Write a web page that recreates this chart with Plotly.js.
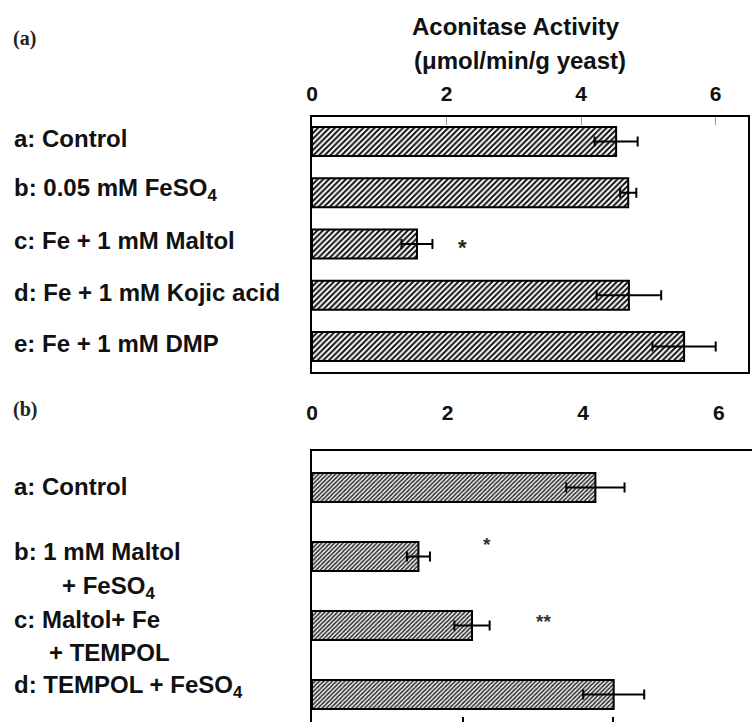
<!DOCTYPE html>
<html>
<head>
<meta charset="utf-8">
<script src="https://cdn.plot.ly/plotly-3.0.1.min.js"></script>
<style>html,body{margin:0;padding:0;background:#fff;}#chart{width:752px;height:722px;}</style>
</head>
<body>
<div id="chart"></div>
<script>
// ---- Panel (a) data ----
var catsA = ["a: Control", "b: 0.05 mM FeSO<sub>4</sub>", "c: Fe + 1 mM Maltol", "d: Fe + 1 mM Kojic acid", "e: Fe + 1 mM DMP"];
var valsA = [4.52, 4.70, 1.56, 4.71, 5.53];
var errA  = [0.32, 0.12, 0.23, 0.48, 0.47];
var starsA = ["", "", "*", "", ""];
var starXA = [null, null, 2.23, null, null];

// ---- Panel (b) data ----
var catsB = ["a: Control", "b: 1 mM Maltol<br>+ FeSO<sub>4</sub>", "c: Maltol+ Fe<br>+ TEMPOL", "d: TEMPOL + FeSO<sub>4</sub>"];
var valsB = [4.18, 1.57, 2.36, 4.45];
var errB  = [0.43, 0.17, 0.26, 0.45];
var starsB = ["", "*", "**", ""];
var starXB = [null, 2.58, 3.41, null];

var tickValsTop = [0, 2, 4, 6];
var tickTextTop = ["0", "2", "4", "6"];
var axisTitle1 = "Aconitase Activity";
var axisTitle2 = "(\u03bcmol/min/g yeast)";

var FONT = "Liberation Sans, Arial, sans-serif";
var SERIF = "Liberation Serif, Times New Roman, serif";
var L = 312, W = 752, H = 722, PW = W - L;
function px2paperX(p){ return (p - L) / PW; }
function px2paperY(p){ return (H - p) / H; }

var idxA = catsA.map(function(_, i){ return i; });
var idxB = catsB.map(function(_, i){ return i; });

var traces = [
  {
    type: 'bar', orientation: 'h', x: valsA, y: idxA, xaxis: 'x', yaxis: 'y',
    width: 0.566,
    marker: {color: '#ffffff', line: {color: '#000', width: 2},
             pattern: {shape: '/', fgcolor: '#111', bgcolor: '#fff', size: 4, solidity: 0.5}},
    error_x: {type: 'data', array: errA, visible: true, color: '#000', thickness: 2, width: 5},
    hoverinfo: 'skip', showlegend: false
  },
  {
    type: 'bar', orientation: 'h', x: valsB, y: idxB, xaxis: 'x2', yaxis: 'y2',
    width: 0.42,
    marker: {color: '#ffffff', line: {color: '#000', width: 2},
             pattern: {shape: '/', fgcolor: '#333', bgcolor: '#fff', size: 3, solidity: 0.55}},
    error_x: {type: 'data', array: errB, visible: true, color: '#000', thickness: 2, width: 5},
    hoverinfo: 'skip', showlegend: false
  },
  { type: 'scatter', x: [], y: [], xaxis: 'x3', yaxis: 'y2', showlegend: false, hoverinfo: 'skip' }
];

var annotations = [];
// category labels panel (a)
catsA.forEach(function(t, i){
  annotations.push({xref: 'paper', yref: 'y', x: px2paperX(12), y: i, yshift: 3,
    xanchor: 'left', yanchor: 'middle', align: 'left', showarrow: false, text: t,
    font: {family: FONT, size: 24, color: '#111', weight: 'bold'}});
});
// category labels panel (b) (multi-line with indented continuation)
var indentsB = [0, 48, 35, 0];
var lineGapB = [0, 36, 33, 0];
var shiftB = [1, 5, 6, 8];
catsB.forEach(function(t, i){
  var lines = t.split('<br>');
  lines.forEach(function(line, j){
    annotations.push({xref: 'paper', yref: 'y2', x: px2paperX(12 + (j ? indentsB[i] : 0)), y: i,
      yshift: shiftB[i] - j * lineGapB[i],
      xanchor: 'left', yanchor: 'middle', align: 'left', showarrow: false, text: line,
      font: {family: FONT, size: 24, color: '#111', weight: 'bold'}});
  });
});
// significance stars
starsA.forEach(function(s, i){
  if (!s) return;
  annotations.push({xref: 'x', yref: 'y', x: starXA[i], y: i, yshift: -4, showarrow: false, text: s,
    xanchor: 'center', yanchor: 'middle', font: {family: FONT, size: 22, color: '#222', weight: 'bold'}});
});
starsB.forEach(function(s, i){
  if (!s) return;
  annotations.push({xref: 'x2', yref: 'y2', x: starXB[i], y: i, yshift: 4 + (i === 1 ? 8 : 0), showarrow: false, text: s,
    xanchor: 'center', yanchor: 'middle', font: {family: FONT, size: 19, color: '#333', weight: 'bold'}});
});
// panel letters and axis title
annotations.push({xref: 'paper', yref: 'paper', x: px2paperX(11), y: px2paperY(38), xanchor: 'left', yanchor: 'middle',
  showarrow: false, text: '(a)', font: {family: SERIF, size: 20, color: '#222', weight: 'bold'}});
annotations.push({xref: 'paper', yref: 'paper', x: px2paperX(11), y: px2paperY(409), xanchor: 'left', yanchor: 'middle',
  showarrow: false, text: '(b)', font: {family: SERIF, size: 20, color: '#222', weight: 'bold'}});
annotations.push({xref: 'paper', yref: 'paper', x: px2paperX(516), y: px2paperY(27), xanchor: 'center', yanchor: 'middle',
  showarrow: false, text: axisTitle1, font: {family: FONT, size: 24, color: '#111', weight: 'bold'}});
annotations.push({xref: 'paper', yref: 'paper', x: px2paperX(520), y: px2paperY(61), xanchor: 'center', yanchor: 'middle',
  showarrow: false, text: axisTitle2, font: {family: FONT, size: 24, color: '#111', weight: 'bold'}});

var layout = {
  width: W, height: H,
  margin: {l: L, r: 0, t: 0, b: 0, pad: 0},
  paper_bgcolor: '#fff', plot_bgcolor: '#fff',
  showlegend: false,
  xaxis: {domain: [0, 436/440], anchor: 'y', side: 'top', range: [0, 6.48],
    tickvals: tickValsTop, ticktext: tickTextTop, ticks: 'inside', ticklen: 8, tickwidth: 1, tickcolor: '#999',
    ticklabelstandoff: 6,
    showline: true, linewidth: 2, linecolor: '#000', mirror: true, showgrid: false, zeroline: false,
    tickfont: {family: FONT, size: 21, color: '#111', weight: 'bold'}, fixedrange: true},
  yaxis: {domain: [px2paperY(372), px2paperY(117)], anchor: 'x', range: [4.5, -0.478],
    showline: true, linewidth: 2, linecolor: '#000', mirror: true, showgrid: false, zeroline: false,
    showticklabels: false, ticks: '', fixedrange: true},
  xaxis2: {domain: [0, 1], anchor: 'y2', side: 'top', range: [0, 6.49],
    tickvals: tickValsTop, ticktext: tickTextTop, ticks: '', ticklabelstandoff: 20,
    showline: true, linewidth: 2.5, linecolor: '#000', showgrid: false, zeroline: false,
    tickfont: {family: FONT, size: 21, color: '#111', weight: 'bold'}, fixedrange: true},
  xaxis3: {overlaying: 'x2', anchor: 'y2', side: 'bottom', range: [0, 5.84],
    tickvals: [2, 4, 6], ticks: 'inside', ticklen: 5, tickwidth: 2, tickcolor: '#000',
    showticklabels: false, showline: false, showgrid: false, zeroline: false, fixedrange: true},
  yaxis2: {domain: [0, px2paperY(451)], anchor: 'x2', range: [3.40, -0.529],
    showline: true, linewidth: 2.5, linecolor: '#000', showgrid: false, zeroline: false,
    showticklabels: false, ticks: '', fixedrange: true},
  annotations: annotations
};

Plotly.newPlot('chart', traces, layout, {displayModeBar: false, staticPlot: true});
</script>
</body>
</html>
